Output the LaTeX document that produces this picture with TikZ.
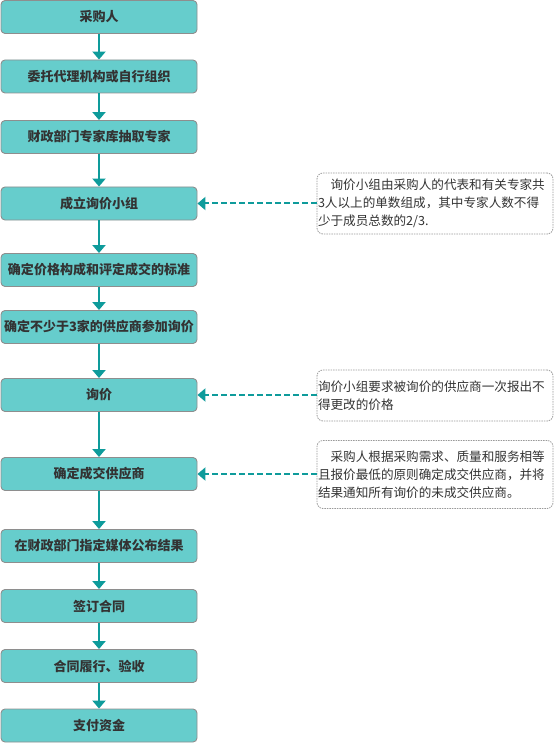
\documentclass[tikz,border=0pt]{standalone}
\usepackage{fontspec}
\setmainfont{Noto Sans CJK SC}
\usetikzlibrary{arrows.meta}
\definecolor{boxfill}{HTML}{66CDCC}
\definecolor{boxline}{HTML}{8E8E8E}
\definecolor{teal2}{HTML}{0E9B9B}
\definecolor{txt}{HTML}{333333}
\definecolor{noteline}{HTML}{9A9A9A}
\begin{document}
\begin{tikzpicture}[x=1pt,y=-1pt,
  stepbox/.style={draw=boxline, line width=0.9pt, fill=boxfill, rounded corners=4pt,
    minimum width=196pt, minimum height=33pt, inner sep=0pt,
    font=\fontsize{13pt}{15pt}\selectfont\bfseries, text=txt},
  notebox/.style={draw=noteline, line width=0.8pt, dash pattern=on 1.5pt off 1pt,
    rounded corners=6pt, text width=234pt, inner xsep=1pt, inner ysep=0pt, align=left,
    font=\fontsize{12.6pt}{18pt}\selectfont, text=txt},
  flow/.style={draw=teal2, line width=2pt, -{Triangle[width=13pt,length=8pt]}},
  dasharrow/.style={draw=teal2, line width=2pt, dash pattern=on 6pt off 3pt,
    -{Triangle[width=13pt,length=8pt]}}
]
\useasboundingbox (0,0) rectangle (554,743);
\node[stepbox] (b1) at (99,17) {采购人};
\node[stepbox] (b2) at (99,76.5) {委托代理机构或自行组织};
\node[stepbox] (b3) at (99,137) {财政部门专家库抽取专家};
\node[stepbox] (b4) at (99,203.5) {成立询价小组};
\node[stepbox] (b5) at (99,270) {确定价格构成和评定成交的标准};
\node[stepbox] (b6) at (99,327) {确定不少于3家的供应商参加询价};
\node[stepbox] (b7) at (99,395) {询价};
\node[stepbox] (b8) at (99,474) {确定成交供应商};
\node[stepbox] (b9) at (99,546) {在财政部门指定媒体公布结果};
\node[stepbox] (b10) at (99,606) {签订合同};
\node[stepbox] (b11) at (99,666) {合同履行、验收};
\node[stepbox] (b12) at (99,725.5) {支付资金};
\foreach \a/\b in {b1/b2,b2/b3,b3/b4,b4/b5,b5/b6,b6/b7,b7/b8,b8/b9,b9/b10,b10/b11,b11/b12}
  \draw[flow] (\a.south) -- (\b.north);
\node[notebox, minimum height=61pt] (n1) at (435,203.5)
  {\hspace*{1em}询价小组由采购人的代表和有关专家共\\3人以上的单数组成，其中专家人数不得\\少于成员总数的2/3.};
\node[notebox, minimum height=51pt] (n2) at (435,395.5)
  {询价小组要求被询价的供应商一次报出不\\得更改的价格};
\node[notebox, minimum height=68pt] (n3) at (435,474.5)
  {\hspace*{1em}采购人根据采购需求、质量和服务相等\\且报价最低的原则确定成交供应商，并将\\结果通知所有询价的未成交供应商。};
\draw[dasharrow] (n1.west |- b4.east) -- (b4.east);
\draw[dasharrow] (n2.west |- b7.east) -- (b7.east);
\draw[dasharrow] (n3.west |- b8.east) -- (b8.east);
\end{tikzpicture}
\end{document}
